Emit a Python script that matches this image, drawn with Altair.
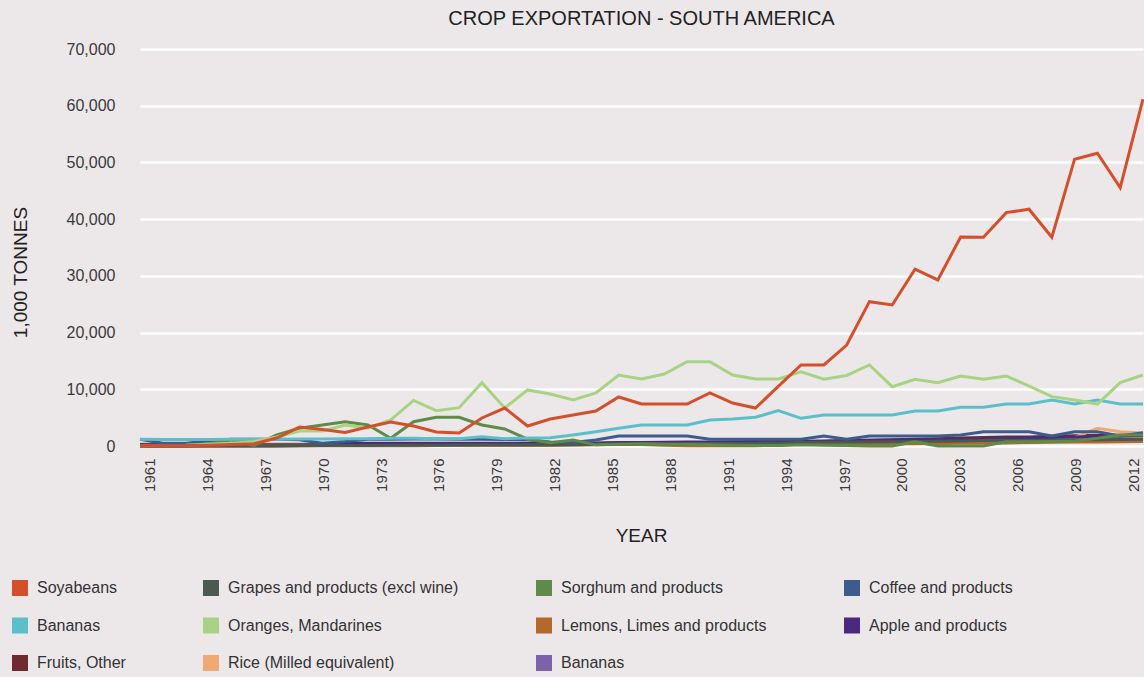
import altair as alt
import pandas as pd

# ---- chart data -------------------------------------------------------------
TITLE = "CROP EXPORTATION - SOUTH AMERICA"
Y_TITLE = "1,000 TONNES"
X_TITLE = "YEAR"

YEAR_TICKS = list(range(1961, 2013, 3))
Y_TICKS = list(range(0, 70001, 10000))

# legend order (row by row, four per row)
SERIES = [
    "Soyabeans", "Grapes and products (excl wine)", "Sorghum and products", "Coffee and products",
    "Bananas", "Oranges, Mandarines", "Lemons, Limes and products", "Apple and products",
    "Fruits, Other", "Rice (Milled equivalent)", "Bananas ",
]
COLORS = [
    "#d44f2c", "#4b5a51", "#5f8a47", "#3d5b8c",
    "#5bbfca", "#a8d383", "#b3692c", "#4a2a7c",
    "#6e2a2e", "#f0a972", "#7b62a9",
]

# exports, 1,000 tonnes, 45 evenly spaced samples over 1961-2012
soyabeans = [100, 100, 100, 150, 250, 400, 1400, 3350, 2900, 2400,
             3350, 4230, 3530, 2470, 2290, 4940, 6700, 3530, 4760, 5470,
             6170, 8640, 7400, 7400, 7400, 9350, 7580, 6700, 10500, 14290,
             14290, 17800, 25450, 24870, 31170, 29280, 36850, 36800, 41150, 41750,
             36800, 50570, 51630, 45570, 61150]
oranges = [100, 100, 150, 300, 500, 800, 1600, 2650, 2650, 3700,
           3200, 4600, 8030, 6230, 6760, 11170, 6700, 9880, 9170, 8110,
           9350, 12520, 11820, 12700, 14870, 14870, 12520, 11820, 11820, 13100,
           11770, 12440, 14290, 10460, 11770, 11170, 12350, 11770, 12350, 10580,
           8700, 8110, 7400, 11170, 12520]
bananas = [1200, 1150, 1150, 1150, 1200, 1200, 1200, 1250, 1250, 1300,
           1300, 1350, 1350, 1300, 1300, 1640, 1300, 1400, 1450, 1940,
           2520, 3120, 3700, 3700, 3700, 4590, 4760, 5060, 6230, 4880,
           5470, 5470, 5470, 5470, 6170, 6170, 6830, 6830, 7410, 7410,
           8110, 7410, 8110, 7410, 7410]
sorghum = [100, 100, 150, 400, 1060, 100, 1940, 3120, 3700, 4290,
           3700, 1360, 4290, 5060, 5060, 3700, 3000, 1200, 580, 1060,
           200, 300, 400, 300, 250, 200, 150, 100, 100, 200,
           150, 100, 0, 0, 760, 0, 0, 0, 760, 760,
           800, 900, 1360, 1940, 1940]
coffee = [1200, 500, 500, 900, 1200, 1200, 1200, 1100, 500, 800,
          1200, 1200, 1250, 1250, 1200, 1200, 1150, 1100, 700, 600,
          1060, 1760, 1760, 1760, 1760, 1180, 1180, 1180, 1180, 1180,
          1760, 1180, 1760, 1760, 1760, 1760, 1940, 2520, 2520, 2520,
          1760, 2520, 2520, 1760, 2350]
grapes = [0, 0, 0, 50, 50, 50, 80, 80, 100, 100,
          100, 120, 150, 150, 180, 200, 200, 220, 250, 250,
          300, 350, 400, 400, 450, 450, 500, 500, 550, 600,
          650, 700, 700, 750, 800, 850, 900, 950, 1000, 1000,
          1050, 1100, 1100, 1150, 1200]
lemons = [0, 0, 0, 0, 0, 0, 0, 0, 50, 50,
          50, 50, 50, 100, 100, 100, 100, 100, 100, 150,
          200, 250, 250, 150, 50, 50, 50, 50, 150, 300,
          300, 350, 400, 400, 400, 450, 500, 500, 550, 600,
          650, 700, 700, 750, 800]
apple = [0, 0, 0, 0, 0, 0, 0, 100, 300, 500,
         500, 500, 500, 500, 500, 500, 500, 500, 500, 500,
         550, 600, 600, 650, 700, 700, 750, 800, 800, 850,
         900, 950, 1000, 1000, 1100, 1150, 1200, 1300, 1400, 1500,
         1500, 1600, 1700, 1700, 1800]
fruits_other = [200, 200, 200, 200, 200, 250, 250, 250, 300, 300,
                300, 300, 300, 350, 350, 350, 400, 400, 400, 450,
                450, 500, 500, 550, 550, 600, 650, 700, 700, 750,
                800, 900, 1000, 1100, 1200, 1300, 1400, 1500, 1600, 1600,
                1700, 1800, 1900, 1900, 2000]
rice = [100, 100, 100, 100, 100, 150, 150, 150, 200, 200,
        200, 250, 250, 250, 300, 300, 300, 300, 350, 350,
        350, 400, 400, 400, 400, 450, 450, 500, 500, 550,
        600, 650, 700, 700, 800, 850, 900, 1000, 1100, 1200,
        1300, 1500, 3120, 2500, 2300]
bananas_2 = [300, 300, 300, 300, 300, 300, 300, 300, 300, 350,
             350, 350, 350, 400, 400, 400, 400, 400, 450, 450,
             450, 500, 500, 500, 550, 550, 600, 600, 650, 650,
             700, 700, 750, 800, 800, 850, 900, 950, 1000, 1000,
             1050, 1100, 1100, 1150, 1200]

# drawing order: low series first, soyabeans on top
DRAW = [
    ("Bananas ", bananas_2), ("Fruits, Other", fruits_other),
    ("Rice (Milled equivalent)", rice), ("Apple and products", apple),
    ("Lemons, Limes and products", lemons), ("Grapes and products (excl wine)", grapes),
    ("Coffee and products", coffee), ("Sorghum and products", sorghum),
    ("Bananas", bananas), ("Oranges, Mandarines", oranges), ("Soyabeans", soyabeans),
]

n = len(soyabeans)
t0, t1 = YEAR_TICKS[0] - 0.5, YEAR_TICKS[-1] + 0.5
times = [t0 + k * (t1 - t0) / (n - 1) for k in range(n)]

rows = []
for name, vals in DRAW:
    for t, v in zip(times, vals):
        rows.append({"series": name, "t": t, "value": v})
df = pd.DataFrame(rows)

FONT = "Liberation Sans"

chart = (
    alt.Chart(df)
    .mark_line(interpolate="linear")
    .encode(
        x=alt.X(
            "t:Q",
            scale=alt.Scale(domain=[t0, t1], nice=False, zero=False),
            axis=alt.Axis(
                values=YEAR_TICKS, format="d", labelAngle=270, title=X_TITLE,
                grid=False, domain=False, ticks=False, tickSize=0,
                labelPadding=12, labelFontSize=15, labelColor="#3a3a3a",
                labelFlush=False, labelOverlap=False,
                titleFontSize=19, titleFontWeight="normal", titleColor="#222222",
                titleX=501, titleY=89, titleAlign="center", titleBaseline="middle",
            ),
        ),
        y=alt.Y(
            "value:Q",
            scale=alt.Scale(domain=[0, 70000], nice=False),
            axis=alt.Axis(
                values=Y_TICKS, format=",.0f", title=Y_TITLE,
                domain=False, ticks=False, tickSize=0,
                labelPadding=25, labelFontSize=16, labelColor="#3a3a3a",
                gridColor="#ffffff", gridWidth=2.5, gridOpacity=1,
                titleFontSize=19, titleFontWeight="normal", titleColor="#222222",
                titleAngle=270, titleX=-120, titleY=223,
                titleAlign="center", titleBaseline="middle",
            ),
        ),
        color=alt.Color(
            "series:N",
            scale=alt.Scale(domain=SERIES, range=COLORS),
            title=None,
            legend=alt.Legend(
                orient="none", legendX=-128, legendY=531,
                direction="horizontal", columns=4,
                symbolType="square", symbolSize=64, symbolStrokeWidth=8,
                labelFontSize=16, labelColor="#333333", labelFont=FONT,
                labelLimit=400, labelOffset=9,
                rowPadding=-2.5, columnPadding=65,
            ),
        ),
        strokeWidth=alt.value(3),
    )
    .properties(
        width=1003,
        height=397,
        padding={"left": 140, "top": 49, "right": 1, "bottom": 231},
        autosize=alt.AutoSizeParams(type="none"),
        background="#ece8ea",
        title=alt.Title(
            TITLE, fontSize=20, fontWeight="normal", color="#222222",
            anchor="middle", offset=12, font=FONT,
        ),
    )
    .configure(font=FONT)
    .configure_view(strokeWidth=0)
)

chart.save("out.html", embed_options={"renderer": "svg", "actions": False})
